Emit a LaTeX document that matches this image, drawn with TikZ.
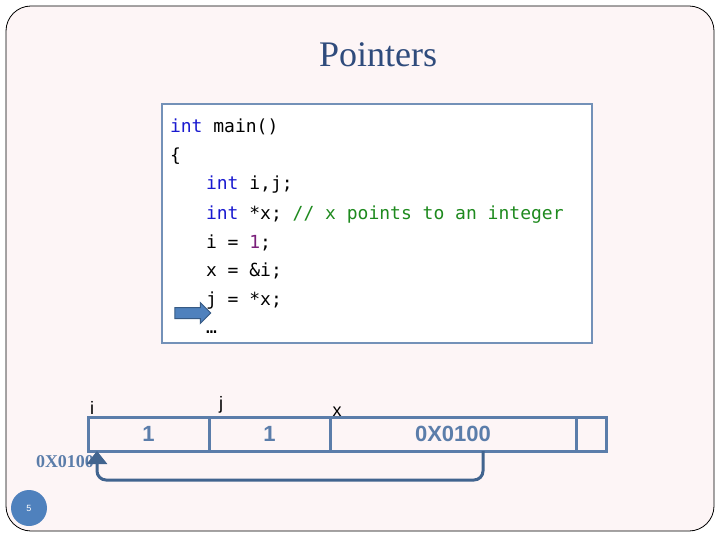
\documentclass[tikz,border=0pt]{standalone}
\usepackage{fontspec}
\setmainfont{Liberation Serif}
\setsansfont{Liberation Sans}
\setmonofont{DejaVu Sans Mono}
\usetikzlibrary{shapes.arrows,arrows.meta}
\definecolor{slidebg}{HTML}{FDF5F6}
\definecolor{titleblue}{HTML}{2F4B7C}
\definecolor{boxblue}{HTML}{7391B8}
\definecolor{cellblue}{HTML}{5B7DAA}
\definecolor{ptrblue}{HTML}{41648F}
\definecolor{kwblue}{HTML}{1A1AD0}
\definecolor{cmtgreen}{HTML}{1E8A1E}
\definecolor{numpurple}{HTML}{7A1F7A}
\definecolor{accent}{HTML}{4F81BD}
\newcommand{\kw}[1]{\textcolor{kwblue}{#1}}
\begin{document}
\begin{tikzpicture}[x=1pt,y=-1pt,inner sep=0pt,outer sep=0pt,
codeline/.style={anchor=base west,font=\ttfamily\fontsize{18}{20}\selectfont},
cell/.style={draw=cellblue,line width=3pt,minimum height=34pt,anchor=north west,
  font=\sffamily\bfseries\fontsize{22}{24}\selectfont,text=cellblue},
varlabel/.style={anchor=base,font=\sffamily\fontsize{18}{20}\selectfont}]
\useasboundingbox (0,0) rectangle (720,540);
\draw[fill=slidebg,rounded corners=25pt,line width=0.8pt] (6,6) rectangle (714,531);
\draw (378,55) node[font=\fontsize{36}{40}\selectfont,text=titleblue] (title) {Pointers};
% code panel
\draw (162,104) node[draw=boxblue,fill=white,line width=2pt,anchor=north west,
  minimum width=430pt,minimum height=239pt] (panel) {};
\draw (170,133) node[codeline] (l1) {\kw{int} main()};
\draw (170,162) node[codeline] (l2) {\{};
\draw (206,190) node[codeline] (l3) {\kw{int} i,j;};
\draw (206,219) node[codeline] (l4) {\kw{int} *x; \textcolor{cmtgreen}{// x points to an integer}};
\draw (206,248) node[codeline] (l5) {i = \textcolor{numpurple}{1};};
\draw (206,276) node[codeline] (l6) {x = \&i;};
\draw (206,305) node[codeline] (l7) {j = *x;};
\draw (206,333) node[codeline] (l8) {…};
\draw (190,313) node[single arrow,fill=accent,draw=accent!70!black,line width=1pt,
  minimum height=36pt,minimum width=20pt,single arrow head extend=5pt,inner sep=5pt] (step) {};
% memory cells
\draw (88,417) node[cell,minimum width=121pt] (ci) {1};
\draw (209,417) node[cell,minimum width=121pt] (cj) {1};
\draw (330,417) node[cell,minimum width=246pt] (cx) {0X0100};
\draw (576,417) node[cell,minimum width=30pt] (cend) {};
\draw (92,414) node[varlabel] (li) {i};
\draw (221,409) node[varlabel] (lj) {j};
\draw (337,416) node[varlabel] (lx) {x};
\draw (65,462) node[font=\bfseries\fontsize{18}{20}\selectfont,text=cellblue] (addr) {0X0100};
\draw[ptrblue,line width=3pt,rounded corners=9pt,-{Triangle[width=20pt,length=13pt]}]
  ([xshift=30pt]cx.south) -- ++(0,29) -| ([xshift=9pt]ci.south west);
% slide number
\draw (29,508) node[circle,fill=accent,minimum size=36pt,text=white,
  font=\sffamily\fontsize{9}{10}\selectfont] (num) {5};
\end{tikzpicture}
\end{document}
